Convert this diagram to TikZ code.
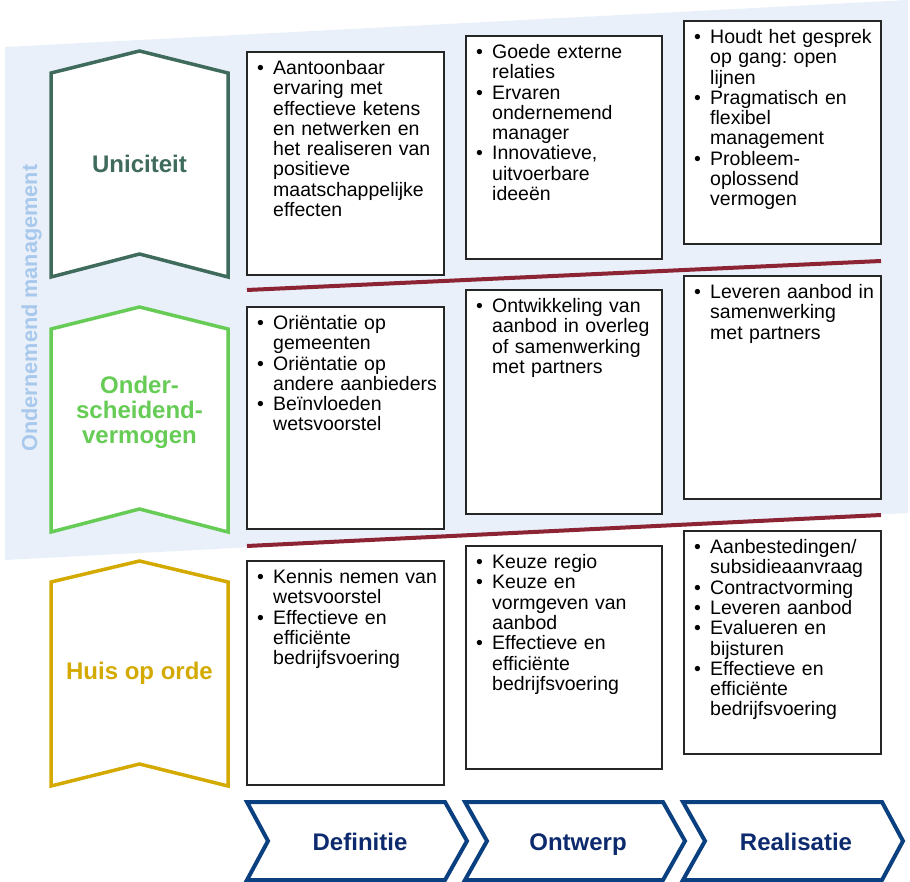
\documentclass[tikz,border=0pt]{standalone}
\usepackage{fontspec}
\setmainfont{Liberation Sans}
\usepackage{tikz}
\usetikzlibrary{positioning}
\frenchspacing

\definecolor{bgblue}{HTML}{E9F0FA}
\definecolor{vertblue}{HTML}{A9C9EC}
\definecolor{unigreen}{HTML}{3F6B5C}
\definecolor{ondgreen}{HTML}{66CC55}
\definecolor{huisgold}{HTML}{D4AA00}
\definecolor{sepred}{HTML}{8C2434}
\definecolor{phaseblue}{HTML}{0B4080}
\definecolor{phasetext}{HTML}{0D2A6E}

\newcommand{\bul}[1]{\par\hangindent=16pt\hangafter=1\noindent\makebox[16pt][l]{\textbullet}#1\par}

\begin{document}
\begin{tikzpicture}[x=1pt, y=-1pt,
  cellbox/.style={draw=black!85, line width=1.5pt, fill=white},
  bullets/.style={anchor=north west, inner sep=0pt, text width=185pt, align=left, font=\fontsize{19.5}{20.3}\selectfont},
  chevtext/.style={font=\bfseries\fontsize{24}{25}\selectfont, align=center},
  rowmark/.style={line width=3.5pt, fill=white},
  phasebox/.style={draw=phaseblue, line width=4pt, fill=white},
  sepline/.style={draw=sepred, line width=4pt}]

\useasboundingbox (0,0) rectangle (910,882);

\fill[bgblue] (5,47) -- (908,0) -- (908,513) -- (5,560) -- cycle;
\node[rotate=90, anchor=base, text=vertblue, font=\bfseries\fontsize{21.7}{22}\selectfont] (ondman) at (37,308) {Ondernemend management};

\draw[sepline] (247,290) -- (881,261);
\draw[sepline] (247,546) -- (881,515);

\draw[rowmark, draw=unigreen] (51,73) -- (139.5,51) -- (228,73) -- (228,277) -- (139.5,254) -- (51,277) -- cycle;
\node[chevtext, text=unigreen] (uni) at (139.5,164) {Uniciteit};
\draw[rowmark, draw=ondgreen] (51,329) -- (139.5,307) -- (228,329) -- (228,532) -- (139.5,509) -- (51,532) -- cycle;
\node[chevtext, text=ondgreen] (ond) at (139.5,412) {Onder-\\scheidend-\\vermogen};
\draw[rowmark, draw=huisgold] (51,582) -- (139.5,561) -- (228,582) -- (228,786) -- (139.5,764) -- (51,786) -- cycle;
\node[chevtext, text=huisgold] (huis) at (139.5,673) {Huis op orde};

\draw[cellbox] (247,52) rectangle (444,275);
\node[bullets] (def-uni) at (257,54) {\bul{Aantoonbaar\newline ervaring met\newline effectieve ketens\newline en netwerken en\newline het realiseren van\newline positieve\newline maatschappelijke\newline effecten}};
\draw[cellbox] (466,36) rectangle (662,259);
\node[bullets] (ontw-uni) at (476,38) {\bul{Goede externe\newline relaties}\bul{Ervaren\newline ondernemend\newline manager}\bul{Innovatieve,\newline uitvoerbare\newline ideeën}};
\draw[cellbox] (684,21) rectangle (881,244);
\node[bullets] (real-uni) at (694,23) {\bul{Houdt het gesprek\newline op gang: open\newline lijnen}\bul{Pragmatisch en\newline flexibel\newline management}\bul{Probleem-\newline oplossend\newline vermogen}};

\draw[cellbox] (247,307) rectangle (444,529);
\node[bullets] (def-ond) at (257,309) {\bul{Oriëntatie op\newline gemeenten}\bul{Oriëntatie op\newline andere aanbieders}\bul{Beïnvloeden\newline wetsvoorstel}};
\draw[cellbox] (466,290) rectangle (662,514);
\node[bullets] (ontw-ond) at (476,292) {\bul{Ontwikkeling van\newline aanbod in overleg\newline of samenwerking\newline met partners}};
\draw[cellbox] (684,276) rectangle (881,499);
\node[bullets] (real-ond) at (694,278) {\bul{Leveren aanbod in\newline samenwerking\newline met partners}};

\draw[cellbox] (247,561) rectangle (444,785);
\node[bullets] (def-huis) at (257,563) {\bul{Kennis nemen van\newline wetsvoorstel}\bul{Effectieve en\newline efficiënte\newline bedrijfsvoering}};
\draw[cellbox] (466,546) rectangle (662,769);
\node[bullets] (ontw-huis) at (476,548) {\bul{Keuze regio}\bul{Keuze en\newline vormgeven van\newline aanbod}\bul{Effectieve en\newline efficiënte\newline bedrijfsvoering}};
\draw[cellbox] (684,531) rectangle (881,754);
\node[bullets] (real-huis) at (694,533) {\bul{Aanbestedingen/\newline subsidieaanvraag}\bul{Contractvorming}\bul{Leveren aanbod}\bul{Evalueren en\newline bijsturen}\bul{Effectieve en\newline efficiënte\newline bedrijfsvoering}};

\draw[phasebox] (247,802) -- (445,802) -- (467,841) -- (445,880) -- (247,880) -- (268,841) -- cycle;
\node[chevtext, text=phasetext, anchor=base] (def) at (360,850) {Definitie};
\draw[phasebox] (465,802) -- (663,802) -- (685,841) -- (663,880) -- (465,880) -- (487,841) -- cycle;
\node[chevtext, text=phasetext, anchor=base] (ontw) at (578,850) {Ontwerp};
\draw[phasebox] (683,802) -- (882,802) -- (903,841) -- (882,880) -- (683,880) -- (705,841) -- cycle;
\node[chevtext, text=phasetext, anchor=base] (real) at (796,850) {Realisatie};

\end{tikzpicture}
\end{document}
